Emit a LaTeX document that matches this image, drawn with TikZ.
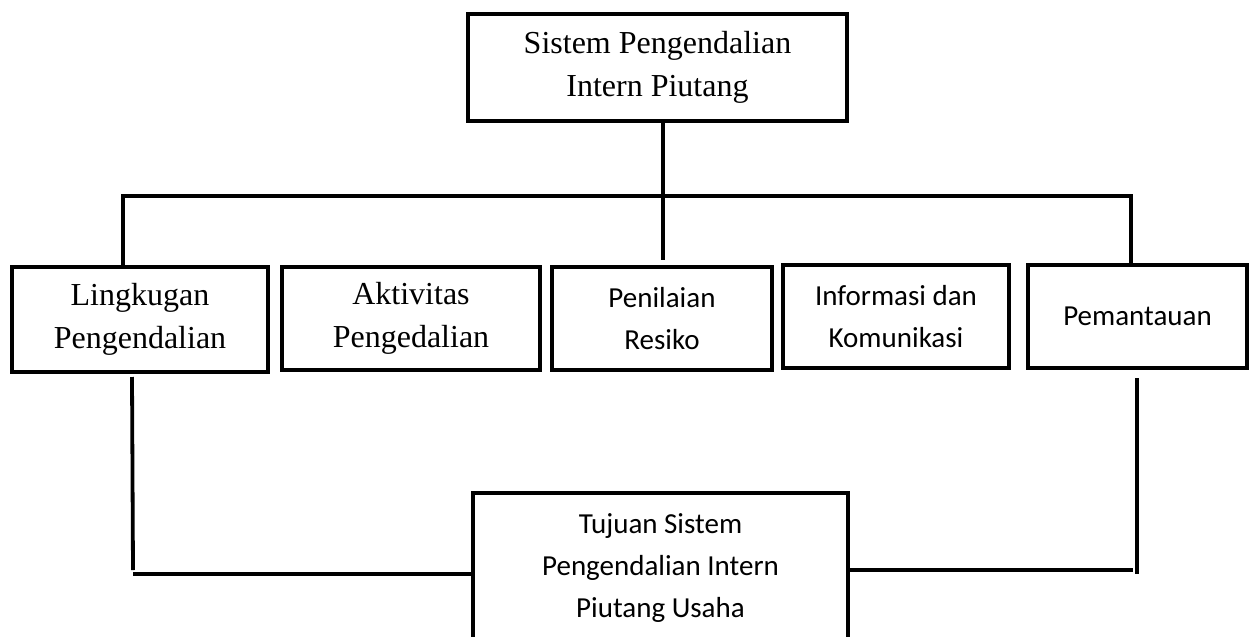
\documentclass[tikz,border=0pt]{standalone}
\usepackage{fontspec}
\newfontfamily\tnrfont{Liberation Serif}
\newfontfamily\calfont{Carlito}
\begin{document}
\begin{tikzpicture}[x=1pt,y=-1pt,
  box/.style={draw, line width=3.5pt, rectangle, inner sep=0pt, align=center},
  serif/.style={font=\tnrfont\fontsize{32}{43}\selectfont},
  sans/.style={font=\calfont\fontsize{29}{42}\selectfont},
  wire/.style={line width=3.8pt}]
\useasboundingbox[fill=white] (0,0) rectangle (1250,637);

% top box
\node[box,serif,minimum width=379,minimum height=107] (top) at (657.5,67.5) {Sistem Pengendalian\\Intern Piutang};

% second row
\node[box,serif,minimum width=256,minimum height=105] (L1) at (140,319.5) {Lingkugan\\Pengendalian};
\node[box,serif,minimum width=258,minimum height=103] (L2) at (411,318.5) {Aktivitas\\Pengedalian};
\node[box,sans,minimum width=220,minimum height=103] (L3) at (662,318.5) {Penilaian\\Resiko};
\node[box,sans,minimum width=226,minimum height=103] (L4) at (896,316.5) {Informasi dan\\Komunikasi};
\node[box,sans,minimum width=219,minimum height=103] (L5) at (1137.5,316.5) {Pemantauan};

% bottom box
\node[box,minimum width=375,minimum height=152] (tuj) at (660.5,569) {};
\node[sans,align=center,inner sep=0pt] (tujtext) at (660.5,568) {Tujuan Sistem\\Pengendalian Intern\\Piutang Usaha};

% connectors from top
\coordinate (tdrop) at (663,260);
\draw[wire] (top.south -| tdrop) -- (tdrop);
\coordinate (busL) at (123,196);
\coordinate (busR) at (1131,196);
\draw[wire] (busL |- L1.north) -- (busL) -- (busR) -- (busR |- L5.north);

% connectors to bottom box
\coordinate (ll1) at (132,377);
\coordinate (ll2) at (133,570);
\draw[wire] (ll1) -- (ll2);
\coordinate (hl) at (133,574);
\draw[wire] (hl) -- (hl -| tuj.west);
\coordinate (hr) at (1133,570);
\draw[wire] (tuj.east |- hr) -- (hr);
\coordinate (rr1) at (1137,378);
\coordinate (rr2) at (1137,574);
\draw[wire] (rr1) -- (rr2);
\end{tikzpicture}
\end{document}
